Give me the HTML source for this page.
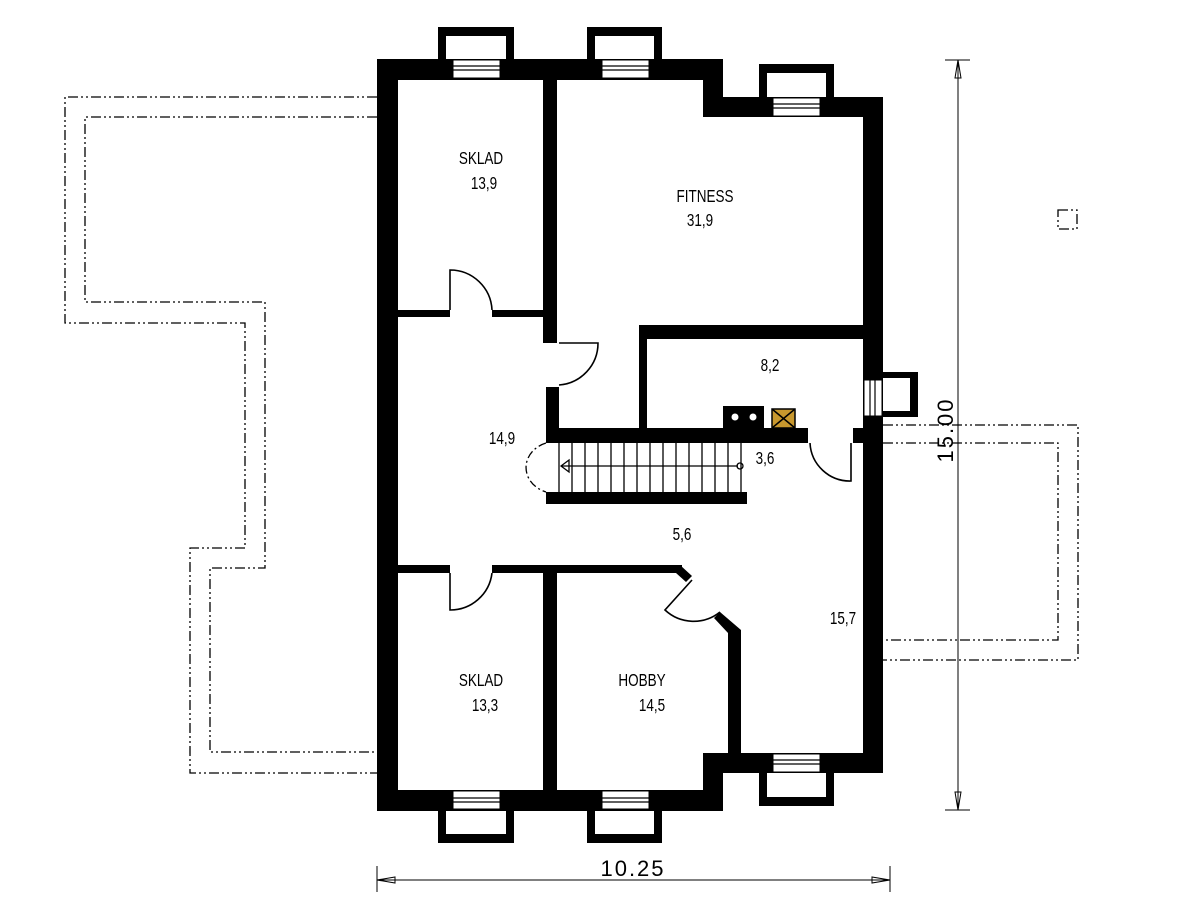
<!DOCTYPE html>
<html><head><meta charset="utf-8"><style>
html,body{margin:0;padding:0;background:#fff;width:1181px;height:900px;overflow:hidden}
text{font-family:"Liberation Sans",sans-serif;font-size:18px;fill:#000}
</style></head><body>
<svg width="1181" height="900" viewBox="0 0 1181 900" xmlns="http://www.w3.org/2000/svg">
<g fill="none" stroke="#000" stroke-width="1.3" stroke-dasharray="10,3,2,3,2,3">
<polyline points="377,97 65,97 65,323 245,323 245,548 190,548 190,773 377,773"/>
<polyline points="377,117 85,117 85,302 265,302 265,568 210,568 210,752 377,752"/>
<polyline points="883,425 1078,425 1078,660 883,660"/>
<polyline points="883,443 1058,443 1058,640 883,640"/>
<rect x="1058" y="210" width="19" height="19"/>
</g>
<g fill="#000">
<rect x="377" y="59" width="346" height="21"/>
<rect x="703" y="59" width="20" height="58"/>
<rect x="703" y="97" width="180" height="20"/>
<rect x="863" y="97" width="20" height="676"/>
<rect x="377" y="59" width="21" height="752"/>
<rect x="377" y="790" width="346" height="21"/>
<rect x="703" y="753" width="20" height="58"/>
<rect x="703" y="753" width="180" height="20"/>
<path d="M438,27h76v32h-8v-23h-60v23h-8z"/>
<path d="M587,27h75v32h-8v-23h-59v23h-8z"/>
<path d="M759,64h75v33h-8v-24h-59v24h-8z"/>
<path d="M438,843h76v-32h-8v23h-60v-23h-8z"/>
<path d="M587,843h75v-32h-8v23h-59v-23h-8z"/>
<path d="M759,806h75v-33h-8v24h-59v-24h-8z"/>
<rect x="543" y="80" width="14" height="263"/>
<rect x="546" y="387" width="13" height="50"/>
<rect x="398" y="310" width="52" height="7"/>
<rect x="492" y="310" width="51" height="7"/>
<rect x="639" y="325" width="224" height="14"/>
<rect x="639" y="325" width="8" height="108"/>
<rect x="546" y="428" width="262" height="15"/>
<rect x="853" y="428" width="10" height="15"/>
<rect x="723" y="406" width="41" height="22"/>
<rect x="546" y="492" width="201" height="12"/>
<rect x="398" y="565" width="52" height="8"/>
<rect x="492" y="565" width="190" height="8"/>
<polygon points="680,565 692,576 686,582 676,573"/>
<rect x="543" y="565" width="14" height="225"/>
<polygon points="720,612 741,630 741,753 728,753 728,633 714,618"/>
</g>
<g fill="#fff" stroke="#000" stroke-width="1">
<rect x="453" y="60" width="47" height="18"/><rect x="602" y="60" width="47" height="18"/><rect x="773" y="98" width="47" height="18"/>
<rect x="453" y="791" width="47" height="18"/><rect x="602" y="791" width="47" height="18"/><rect x="773" y="754" width="47" height="18"/>
<rect x="864" y="380" width="18" height="36"/>
</g>
<g stroke="#000" stroke-width="1.2">
<line x1="453" y1="66" x2="500" y2="66"/><line x1="453" y1="70" x2="500" y2="70"/>
<line x1="602" y1="66" x2="649" y2="66"/><line x1="602" y1="70" x2="649" y2="70"/>
<line x1="773" y1="104" x2="820" y2="104"/><line x1="773" y1="108" x2="820" y2="108"/>
<line x1="453" y1="798" x2="500" y2="798"/><line x1="453" y1="802" x2="500" y2="802"/>
<line x1="602" y1="798" x2="649" y2="798"/><line x1="602" y1="802" x2="649" y2="802"/>
<line x1="773" y1="760" x2="820" y2="760"/><line x1="773" y1="764" x2="820" y2="764"/>
<line x1="870" y1="380" x2="870" y2="416"/><line x1="875" y1="380" x2="875" y2="416"/>
</g>
<path d="M883,372h35v45h-35v-6h27v-33h-27z" fill="#000"/>
<circle cx="735" cy="417" r="3.5" fill="#fff"/><circle cx="753" cy="417" r="3.5" fill="#fff"/>
<rect x="772" y="409" width="23" height="19" fill="#c8982e" stroke="#000" stroke-width="1.5"/>
<path d="M772,409L795,428M795,409L772,428" stroke="#000" stroke-width="1.5"/>
<g fill="none" stroke="#000" stroke-width="1.6">
<path d="M450,310V270A42,42 0 0 1 492,310"/>
<path d="M559,343H598A42,42 0 0 1 559,385"/>
<path d="M851,443V481A40,40 0 0 1 810,443"/>
<path d="M450,573V610A42,42 0 0 0 492,573"/>
<path d="M692,580L665,610A42,42 0 0 0 720,612"/>
</g>
<g stroke="#000" stroke-width="1.3" fill="none">
<line x1="559" y1="443" x2="559" y2="492"/>
<line x1="572" y1="443" x2="572" y2="492"/><line x1="585" y1="443" x2="585" y2="492"/><line x1="598" y1="443" x2="598" y2="492"/><line x1="611" y1="443" x2="611" y2="492"/><line x1="624" y1="443" x2="624" y2="492"/><line x1="637" y1="443" x2="637" y2="492"/><line x1="650" y1="443" x2="650" y2="492"/><line x1="663" y1="443" x2="663" y2="492"/><line x1="676" y1="443" x2="676" y2="492"/><line x1="689" y1="443" x2="689" y2="492"/><line x1="702" y1="443" x2="702" y2="492"/><line x1="715" y1="443" x2="715" y2="492"/><line x1="728" y1="443" x2="728" y2="492"/><line x1="741" y1="443" x2="741" y2="492"/>
<line x1="561" y1="466" x2="738" y2="466"/>
<polygon points="561,466 569,460 569,472"/>
<circle cx="740" cy="466" r="3"/>
<path d="M546,443A30,26 0 0 0 546,492" stroke-dasharray="8,3,2,3"/>
</g>
<g stroke="#000" stroke-width="1" fill="none">
<line x1="377" y1="880" x2="890" y2="880"/><line x1="377" y1="866" x2="377" y2="892"/><line x1="890" y1="866" x2="890" y2="892"/>
<polygon points="377,880 395,877 395,883"/><polygon points="890,880 872,877 872,883"/>
<line x1="958" y1="60" x2="958" y2="810"/><line x1="945" y1="60" x2="970" y2="60"/><line x1="945" y1="810" x2="970" y2="810"/>
<polygon points="958,60 955,78 961,78"/><polygon points="958,810 955,792 961,792"/>
</g>
<text x="633" y="876" text-anchor="middle" style="font-size:22px;letter-spacing:2px">10.25</text>
<text transform="translate(953,430) rotate(-90)" text-anchor="middle" style="font-size:22px;letter-spacing:2px">15.00</text>
<g text-anchor="middle">
<text x="481" y="164" transform="translate(481 0) scale(0.75 1) translate(-481 0)">SKLAD</text>
<text x="484" y="189" transform="translate(484 0) scale(0.75 1) translate(-484 0)">13,9</text>
<text x="705" y="202" transform="translate(705 0) scale(0.75 1) translate(-705 0)">FITNESS</text>
<text x="700" y="226" transform="translate(700 0) scale(0.75 1) translate(-700 0)">31,9</text>
<text x="770" y="371" transform="translate(770 0) scale(0.75 1) translate(-770 0)">8,2</text>
<text x="502" y="444" transform="translate(502 0) scale(0.75 1) translate(-502 0)">14,9</text>
<text x="765" y="464" transform="translate(765 0) scale(0.75 1) translate(-765 0)">3,6</text>
<text x="682" y="540" transform="translate(682 0) scale(0.75 1) translate(-682 0)">5,6</text>
<text x="843" y="624" transform="translate(843 0) scale(0.75 1) translate(-843 0)">15,7</text>
<text x="481" y="686" transform="translate(481 0) scale(0.75 1) translate(-481 0)">SKLAD</text>
<text x="485" y="711" transform="translate(485 0) scale(0.75 1) translate(-485 0)">13,3</text>
<text x="642" y="686" transform="translate(642 0) scale(0.75 1) translate(-642 0)">HOBBY</text>
<text x="652" y="711" transform="translate(652 0) scale(0.75 1) translate(-652 0)">14,5</text>
</g>
</svg>
</body></html>
